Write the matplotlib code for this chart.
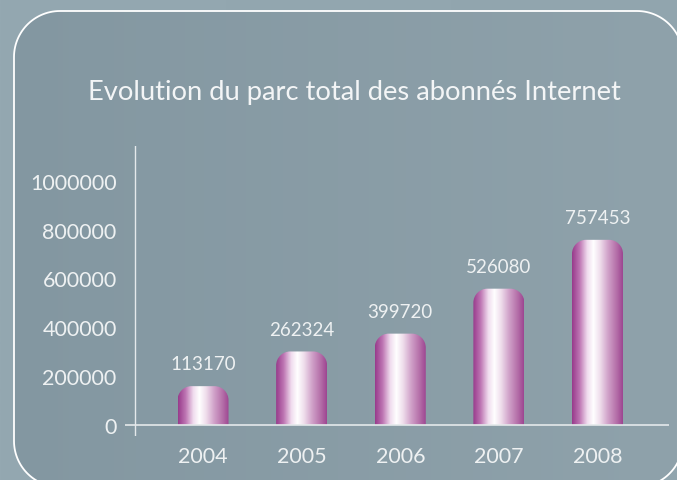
import numpy as np
import matplotlib.pyplot as plt
from matplotlib.path import Path
from matplotlib.patches import PathPatch, Polygon
from matplotlib.colors import LinearSegmentedColormap

plt.rcParams['font.family'] = ['Lato', 'DejaVu Sans']

title = "Evolution du parc total des abonnés Internet"
years = ['2004', '2005', '2006', '2007', '2008']
abonnes = [113170, 262324, 399720, 526080, 757453]
# hauteurs des barres telles que dessinées dans l'original (pas proportionnelles aux étiquettes)
bar_heights = [159000, 301000, 374000, 558000, 758000]
y_ticks = [0, 200000, 400000, 600000, 800000, 1000000]

txt_color = '#eef1f2'
W, H = 677, 481
fig = plt.figure(figsize=(W / 100, H / 100), dpi=100)


def rounded_rect(x0, y0, x1, y1, r, n=30):
    # contour en segments droits (les courbes de Bézier se déforment au découpage)
    pts = []
    for cx, cy, a0 in [(x1 - r, y1 - r, 0), (x0 + r, y1 - r, 90),
                       (x0 + r, y0 + r, 180), (x1 - r, y0 + r, 270)]:
        t = np.radians(np.linspace(a0, a0 + 90, n))
        pts += list(zip(cx + r * np.cos(t), cy + r * np.sin(t)))
    return pts


# fond dégradé + cadre arrondi
bg = fig.add_axes([0, 0, 1, 1])
bg.axis('off')
grad = np.linspace(0, 1, 256).reshape(1, -1)
out_cmap = LinearSegmentedColormap.from_list('out', ['#94a8b1', '#91a5ae'])
bg.imshow(grad, cmap=out_cmap, extent=(0, W, 0, H), aspect='auto')
box = Polygon(rounded_rect(14, H - 488, 683, H - 12, 46), closed=True,
              facecolor='none', edgecolor='white', lw=1.3, zorder=3)
bg.add_patch(box)
in_cmap = LinearSegmentedColormap.from_list('in', ['#8397a1', '#8fa2ab'])
inner = bg.imshow(grad, cmap=in_cmap, extent=(0, W, 0, H), aspect='auto', zorder=2)
inner.set_clip_path(box)
bg.set_xlim(0, W)
bg.set_ylim(0, H)

fig.text(354 / W, 1 - 93 / H, title, ha='center', va='center',
         fontsize=19.7, color='#f3f5f6')

# graphique
ax = fig.add_axes([125 / W, (H - 437) / H, (669 - 125) / W, (437 - 147) / H])
ax.patch.set_visible(False)
for s in ax.spines.values():
    s.set_visible(False)

xmin, xmax = -0.791, 4.725
ymin, ymax = -45000, 1142000
px_x = (669 - 125) / (xmax - xmin)
px_y = (437 - 147) / (ymax - ymin)

bar_cmap = LinearSegmentedColormap.from_list('bar', [
    (0.0, '#973a8b'), (0.15, '#be76b3'), (0.3, '#f0dcee'), (0.42, '#ffffff'),
    (0.55, '#efdeec'), (0.7, '#d2a5cb'), (0.88, '#b46ea8'), (1.0, '#9d4591')])
bw = 0.517
rx, ry = 14 / px_x, 14 / px_y
k = 0.5523
for i, h in enumerate(bar_heights):
    x0, x1 = i - bw / 2, i + bw / 2
    verts = [(x0, 0), (x0, h - ry),
             (x0, h - ry + k * ry), (x0 + rx - k * rx, h), (x0 + rx, h),
             (x1 - rx, h),
             (x1 - rx + k * rx, h), (x1, h - ry + k * ry), (x1, h - ry),
             (x1, 0), (x0, 0)]
    codes = [Path.MOVETO, Path.LINETO,
             Path.CURVE4, Path.CURVE4, Path.CURVE4,
             Path.LINETO,
             Path.CURVE4, Path.CURVE4, Path.CURVE4,
             Path.LINETO, Path.CLOSEPOLY]
    patch = PathPatch(Path(verts, codes), facecolor='none', edgecolor='none')
    ax.add_patch(patch)
    im = ax.imshow(grad, cmap=bar_cmap, extent=(x0, x1, 0, h), aspect='auto', zorder=2)
    im.set_clip_path(patch)
    ax.annotate(str(abonnes[i]), (i, h), xytext=(0, 16), textcoords='offset points',
                ha='center', va='center', color=txt_color, fontsize=13.5)

ax.axhline(0, color='#e4e9eb', lw=1.2, zorder=3)
ax.axvline(-0.69, color='#e4e9eb', lw=1.0, zorder=3)

ax.set_xlim(xmin, xmax)
ax.set_ylim(ymin, ymax)
ax.set_yticks(y_ticks)
ax.set_yticklabels([str(v) for v in y_ticks])
ax.set_xticks(range(len(years)))
ax.set_xticklabels(years)
ax.tick_params(axis='y', length=0, pad=6, labelsize=15.5, labelcolor=txt_color)
ax.tick_params(axis='x', length=0, pad=7, labelsize=15.5, labelcolor=txt_color)

fig.savefig('out.png', dpi=100)
